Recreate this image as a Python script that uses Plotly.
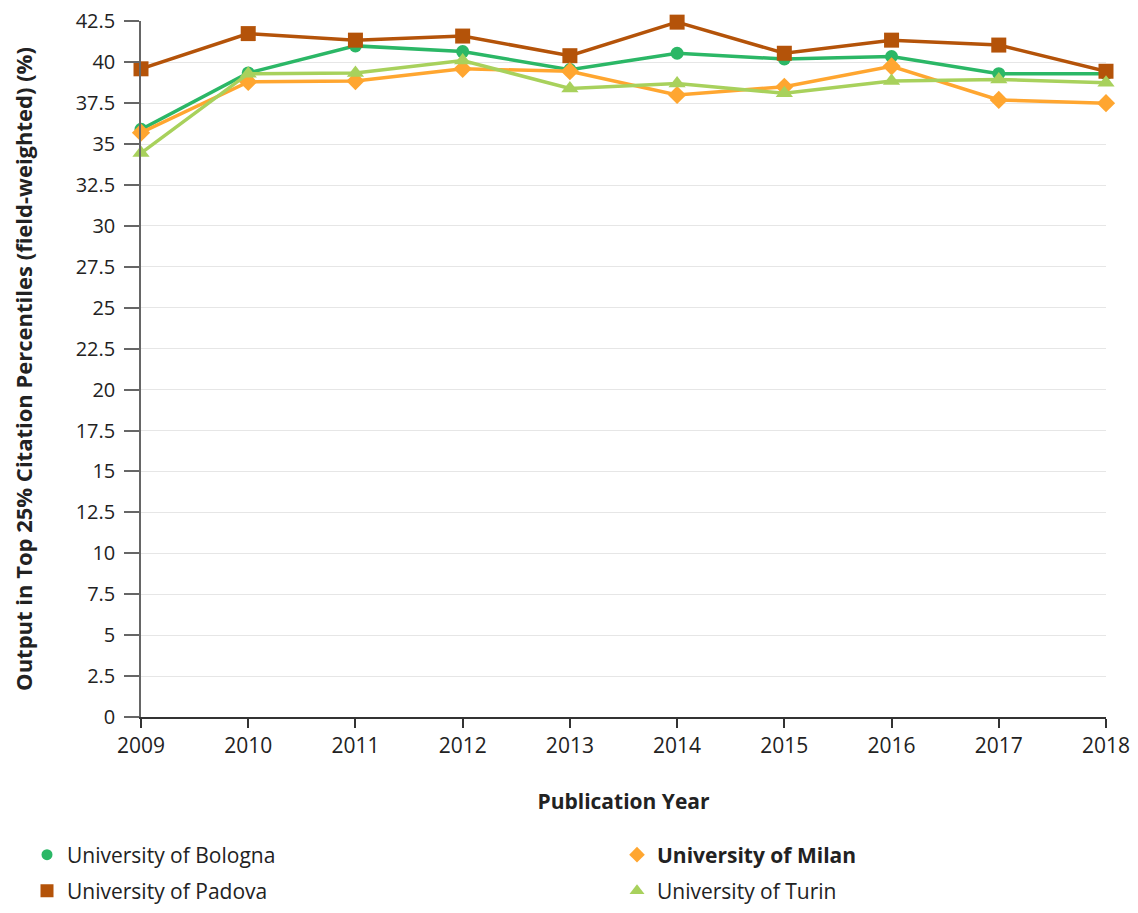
import plotly.graph_objects as go

years = [2009, 2010, 2011, 2012, 2013, 2014, 2015, 2016, 2017, 2018]
bologna = [35.9, 39.35, 41.0, 40.65, 39.55, 40.55, 40.2, 40.35, 39.3, 39.3]
padova = [39.6, 41.75, 41.35, 41.6, 40.4, 42.45, 40.55, 41.35, 41.05, 39.45]
milan = [35.7, 38.8, 38.85, 39.6, 39.45, 38.0, 38.5, 39.75, 37.7, 37.5]
turin = [34.45, 39.3, 39.35, 40.1, 38.4, 38.7, 38.1, 38.85, 38.95, 38.75]
y_ticks = [0, 2.5, 5, 7.5, 10, 12.5, 15, 17.5, 20, 22.5, 25, 27.5, 30, 32.5, 35, 37.5, 40, 42.5]
y_tick_text = ["0", "2.5", "5", "7.5", "10", "12.5", "15", "17.5", "20", "22.5", "25", "27.5", "30", "32.5", "35", "37.5", "40", "42.5"]

FONT = "Open Sans"

series = [
    ("University of Bologna", bologna, "#2bb766", "circle", 13, 11, "legend"),
    ("University of Padova", padova, "#b45309", "square", 15, 13, "legend2"),
    ("<b>University of Milan</b>", milan, "#ffa630", "diamond", 14, 12, "legend3"),
    ("University of Turin", turin, "#a8d15c", "triangle-up", 15, 13, "legend4"),
]

fig = go.Figure()
for name, vals, color, sym, size, lsize, leg in series:
    fig.add_trace(go.Scatter(
        x=years, y=vals, mode="lines+markers", name=name,
        line=dict(color=color, width=3.5),
        marker=dict(symbol=sym, size=size, color=color),
        showlegend=False, hoverinfo="skip", cliponaxis=False,
    ))
    fig.add_trace(go.Scatter(
        x=[None], y=[None], mode="markers", name=name,
        marker=dict(symbol=sym, size=lsize, color=color),
        legend=leg, showlegend=True,
    ))

# page body has an 8px margin; figure coords = screen coords - 8
W, H = 1130, 905
L, R, T, B = 133, 32, 13, 196
def cx(sx):
    return (sx - 8) / W
def cy(sy):
    return 1 - (sy - 8) / H

legend_common = dict(font=dict(family=FONT, size=21, color="#222"),
                     bgcolor="rgba(0,0,0,0)", xanchor="left", yanchor="middle",
                     xref="container", yref="container", orientation="h")
pos = {"legend": (27, 855), "legend2": (27, 891), "legend3": (617, 855), "legend4": (617, 891)}

fig.update_layout(
    width=W, height=H,
    margin=dict(l=L, r=R, t=T, b=B),
    plot_bgcolor="white", paper_bgcolor="white",
    font=dict(family=FONT, size=22, color="#222"),
    xaxis=dict(
        range=[2009, 2018], tickmode="array", tickvals=years,
        ticktext=[str(y) for y in years], automargin=False,
        ticklabeloverflow="allow",
        showgrid=False, zeroline=False,
        showline=True, linecolor="#333", linewidth=1.5,
        ticks="outside", ticklen=9, tickcolor="#333", tickwidth=1.5,
        tickfont=dict(family=FONT, size=21, color="#222"),
        title=dict(text="<b>Publication Year</b>", font=dict(family=FONT, size=21, color="#222"), standoff=36),
    ),
    yaxis=dict(
        range=[0, 42.52], tickmode="array", tickvals=y_ticks, ticktext=y_tick_text,
        automargin=False, ticklabeloverflow="allow", ticklabelstandoff=5,
        showgrid=True, gridcolor="#e6e6e6", gridwidth=1, zeroline=False,
        showline=True, linecolor="#666", linewidth=1.5,
        ticks="outside", ticklen=15, tickcolor="#666", tickwidth=1.5,
        tickfont=dict(family=FONT, size=20, color="#222"),
        title=dict(text="<b>Output in Top 25% Citation Percentiles (field-weighted) (%)</b>",
                   font=dict(family=FONT, size=22, color="#222"), standoff=40),
    ),
)
for key, (sx, sy) in pos.items():
    fig.update_layout({key: dict(legend_common, x=cx(sx), y=cy(sy))})

fig.write_html("out.html")
